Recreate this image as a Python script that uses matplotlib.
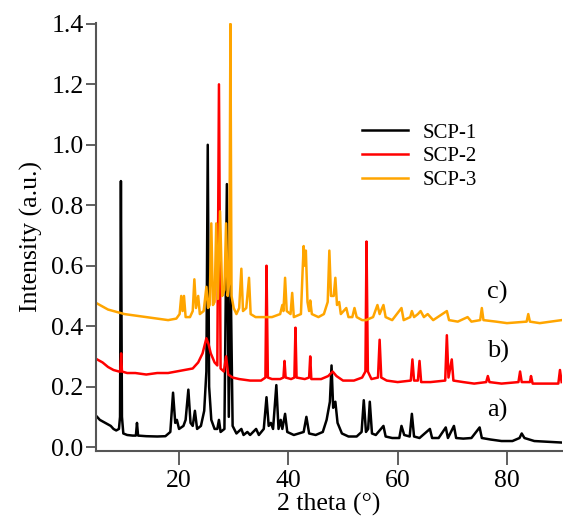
import matplotlib
matplotlib.use("Agg")
import matplotlib.pyplot as plt

plt.rcParams['font.family'] = ['Liberation Serif', 'DejaVu Serif']

# SCP-1 (black): 2 theta / intensity
scp1_x = [5.0, 5.5, 6.0, 6.5, 7.0, 7.5, 8.0, 8.5, 9.0, 9.2, 9.36, 9.55, 9.8, 10.5,
          11.5, 12.1, 12.3, 12.5, 14.0, 16.0, 17.5, 18.4, 18.9, 19.3, 19.6, 20.0,
          20.8, 21.2, 21.7, 22.1, 22.5, 22.9, 23.3, 24.0, 24.6, 25.0, 25.25, 25.5,
          25.9, 26.5, 27.0, 27.3, 27.6, 28.3, 28.75, 29.1, 29.45, 29.8, 30.5, 31.4,
          31.8, 32.5, 33.0, 34.1, 34.6, 35.5, 36.0, 36.4, 36.8, 37.2, 37.8, 38.2,
          38.6, 38.9, 39.4, 39.8, 41.0, 42.8, 43.3, 43.8, 45.0, 46.3, 47.0, 47.6,
          47.9, 48.2, 48.6, 49.0, 49.8, 51.0, 52.5, 53.4, 53.8, 54.2, 54.6, 54.9,
          55.3, 56.0, 57.4, 57.8, 59.0, 60.3, 60.7, 61.2, 62.2, 62.6, 63.0, 64.0,
          65.9, 66.3, 67.5, 68.8, 69.2, 70.3, 70.7, 72.0, 73.5, 75.0, 75.4, 77.0,
          79.0, 81.0, 82.3, 82.7, 83.2, 85.0, 87.0, 90.0]
scp1_y = [0.10, 0.09, 0.085, 0.08, 0.075, 0.07, 0.06, 0.055, 0.06, 0.10, 0.88, 0.10, 0.045, 0.04,
          0.038, 0.038, 0.08, 0.038, 0.036, 0.035, 0.036, 0.05, 0.18, 0.08, 0.09, 0.06,
          0.07, 0.09, 0.19, 0.08, 0.07, 0.12, 0.06, 0.07, 0.12, 0.25, 1.0, 0.2,
          0.09, 0.06, 0.06, 0.09, 0.05, 0.06, 0.87, 0.10, 0.55, 0.07, 0.045, 0.06,
          0.04, 0.05, 0.04, 0.06, 0.04, 0.06, 0.165, 0.07, 0.08, 0.06, 0.205, 0.06,
          0.09, 0.06, 0.11, 0.05, 0.04, 0.05, 0.10, 0.045, 0.04, 0.05, 0.09, 0.15,
          0.27, 0.13, 0.15, 0.08, 0.045, 0.035, 0.035, 0.05, 0.155, 0.05, 0.06, 0.15,
          0.045, 0.04, 0.07, 0.035, 0.03, 0.03, 0.07, 0.04, 0.035, 0.11, 0.035, 0.03,
          0.06, 0.03, 0.03, 0.065, 0.03, 0.07, 0.03, 0.028, 0.03, 0.065, 0.03, 0.025,
          0.02, 0.02, 0.03, 0.045, 0.03, 0.02, 0.018, 0.015]

# SCP-2 (red)
scp2_x = [5.0, 5.5, 6.0, 7.0, 8.0, 9.0, 9.25, 9.4, 9.55, 10.5, 12.0, 14.0, 16.0, 18.0,
          19.5, 21.0, 22.5, 23.5, 24.3, 25.0, 25.4, 25.8, 26.5, 27.0, 27.3, 27.6,
          28.2, 28.6, 29.0, 29.8, 31.0, 33.0, 35.0, 35.8, 36.0, 36.25, 37.0, 38.5,
          39.1, 39.3, 39.5, 40.5, 41.1, 41.3, 41.5, 43.0, 43.8, 44.0, 44.2, 46.0,
          47.3, 48.1, 48.8, 50.0, 52.0, 53.5, 54.1, 54.3, 54.55, 55.2, 56.4, 56.7,
          57.0, 58.0, 60.0, 62.4, 62.7, 63.0, 63.7, 64.0, 64.3, 66.0, 68.7, 69.0,
          69.3, 69.9, 70.2, 72.0, 74.0, 76.2, 76.5, 76.8, 79.0, 82.1, 82.4, 82.7,
          84.2, 84.4, 84.7, 87.0, 89.4, 89.7, 90.0]
scp2_y = [0.29, 0.285, 0.28, 0.265, 0.255, 0.25, 0.25, 0.31, 0.25, 0.245, 0.245, 0.24, 0.245, 0.245,
          0.25, 0.255, 0.26, 0.28, 0.31, 0.36, 0.34, 0.31, 0.28, 0.27, 1.2, 0.26,
          0.25, 0.30, 0.24, 0.23, 0.225, 0.22, 0.22, 0.23, 0.60, 0.23, 0.225, 0.225,
          0.23, 0.285, 0.23, 0.225, 0.23, 0.395, 0.23, 0.225, 0.23, 0.30, 0.225, 0.225,
          0.235, 0.25, 0.235, 0.22, 0.22, 0.23, 0.25, 0.68, 0.25, 0.225, 0.23, 0.355,
          0.23, 0.22, 0.215, 0.22, 0.29, 0.22, 0.22, 0.285, 0.215, 0.215, 0.22, 0.37,
          0.23, 0.29, 0.22, 0.215, 0.21, 0.215, 0.235, 0.215, 0.21, 0.215, 0.25, 0.215,
          0.215, 0.235, 0.21, 0.21, 0.21, 0.255, 0.215]

# SCP-3 (orange)
scp3_x = [5.0, 6.0, 7.0, 8.0, 9.0, 10.0, 12.0, 14.0, 16.0, 18.0, 19.5, 20.1, 20.4, 20.65,
          20.9, 21.2, 22.0, 22.5, 22.8, 23.1, 23.5, 23.8, 24.5, 25.0, 25.3, 25.6,
          25.9, 26.2, 26.5, 26.8, 27.1, 27.5, 27.9, 28.3, 28.6, 28.9, 29.2, 29.4,
          29.6, 30.0, 30.5, 31.0, 31.4, 31.7, 32.3, 32.8, 33.1, 34.0, 35.5, 37.0,
          38.5, 38.9, 39.1, 39.4, 39.7, 40.4, 40.7, 41.0, 42.3, 42.6, 42.8, 43.0,
          43.2, 43.5, 43.8, 44.0, 44.3, 45.5, 46.5, 47.2, 47.5, 47.8, 48.3, 48.6,
          48.9, 49.3, 49.6, 50.6, 51.0, 51.7, 52.1, 52.5, 53.5, 54.2, 55.5, 56.3,
          56.7, 57.4, 57.8, 59.0, 60.7, 61.1, 62.3, 62.6, 63.0, 63.7, 64.2, 64.8,
          65.5, 66.5, 69.0, 69.4, 71.0, 72.8, 73.5, 75.1, 75.4, 75.7, 78.0, 80.0,
          83.6, 83.9, 84.2, 86.0, 88.0, 90.0]
scp3_y = [0.475, 0.465, 0.455, 0.45, 0.445, 0.44, 0.435, 0.43, 0.425, 0.42, 0.425, 0.44, 0.50, 0.45,
          0.50, 0.43, 0.43, 0.45, 0.555, 0.46, 0.50, 0.44, 0.45, 0.53, 0.46, 0.47,
          0.74, 0.47, 0.48, 0.74, 0.49, 0.78, 0.50, 0.52, 0.74, 0.50, 0.55, 1.4,
          0.50, 0.46, 0.44, 0.46, 0.59, 0.45, 0.46, 0.56, 0.44, 0.43, 0.43, 0.43,
          0.44, 0.47, 0.45, 0.56, 0.45, 0.44, 0.51, 0.43, 0.44, 0.58, 0.665, 0.60,
          0.65, 0.48, 0.45, 0.485, 0.44, 0.43, 0.44, 0.48, 0.65, 0.50, 0.50, 0.56,
          0.47, 0.48, 0.44, 0.46, 0.43, 0.43, 0.46, 0.43, 0.42, 0.42, 0.43, 0.47,
          0.44, 0.47, 0.43, 0.42, 0.46, 0.42, 0.43, 0.45, 0.43, 0.44, 0.45, 0.43,
          0.44, 0.42, 0.45, 0.42, 0.415, 0.43, 0.415, 0.42, 0.46, 0.42, 0.415, 0.41,
          0.415, 0.44, 0.415, 0.41, 0.415, 0.42]

curve_labels = ['a)', 'b)', 'c)']
curve_label_y = [0.12, 0.315, 0.51]

fig = plt.figure(figsize=(5.63, 5.22), dpi=100)
ax = fig.add_axes([0.1705, 0.136, 0.828, 0.82])

ax.plot(scp1_x, scp1_y, color='black', lw=1.8, label='SCP-1')
ax.plot(scp2_x, scp2_y, color='#ff0000', lw=1.8, label='SCP-2')
ax.plot(scp3_x, scp3_y, color='#ffa500', lw=1.8, label='SCP-3')

for lab, yy in zip(curve_labels, curve_label_y):
    ax.text(76.3, yy, lab, fontsize=19, ha='left', va='center')

ax.set_xlim(4.8, 90.1)
ax.set_ylim(-0.013, 1.403)
ax.set_xticks([20, 40, 60, 80])
ax.set_yticks([0.0, 0.2, 0.4, 0.6, 0.8, 1.0, 1.2, 1.4])
ax.yaxis.set_major_formatter(matplotlib.ticker.FormatStrFormatter('%.1f'))
ax.tick_params(labelsize=18.5, width=1.2, color='#444444', direction='out')
ax.tick_params(axis='x', length=10, pad=4)
ax.tick_params(axis='y', length=7, pad=2)
for side in ['top', 'right']:
    ax.spines[side].set_visible(False)
for side in ['left', 'bottom']:
    ax.spines[side].set_color('#555555')
    ax.spines[side].set_linewidth(1.5)

ax.set_xlabel('2 theta (°)', fontsize=18.5, labelpad=0)
ax.set_ylabel('Intensity (a.u.)', fontsize=18.5, labelpad=6)

ax.legend(loc='upper left', bbox_to_anchor=(0.53, 0.81), frameon=False,
          fontsize=15, handlelength=2.2, handletextpad=0.7, labelspacing=0.2)

fig.savefig('out.png', dpi=100)
